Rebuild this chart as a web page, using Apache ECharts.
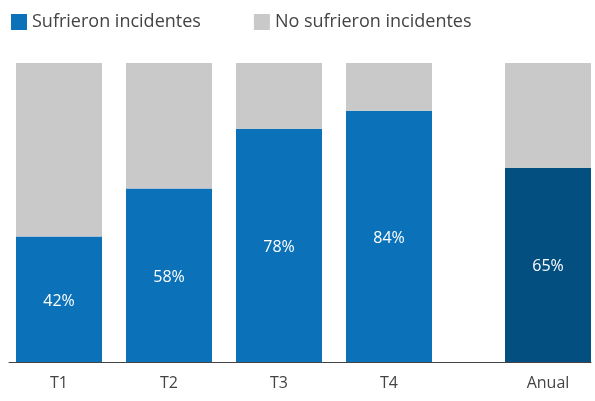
<!DOCTYPE html>
<html>
<head>
<meta charset="utf-8">
<script src="https://cdn.jsdelivr.net/npm/echarts@6/dist/echarts.min.js"></script>
<style>html,body{margin:0;padding:0;background:#fff;}#c{width:595px;height:401px;}</style>
</head>
<body>
<div id="c"></div>
<script>
const quarterCategories = ['T1', 'T2', 'T3', 'T4'];
const annualCategory = ['Anual'];
const quarterIncidents = [42, 58, 78, 84];
const quarterNoIncidents = [58, 42, 22, 16];
const annualIncidents = [65];
const annualNoIncidents = [35];
const seriesNames = ['Sufrieron incidentes', 'No sufrieron incidentes'];

const BLUE = '#0b72ba', DARK = '#034f80', GREY = '#c9c9c9';
const FONT = 'Open Sans';
const chart = echarts.init(document.getElementById('c'), null, {renderer: 'canvas'});
const label = {show: true, position: 'inside', offset: [0, 2], formatter: '{c}%', color: '#fff', fontSize: 16, fontFamily: FONT};
const axisLbl = {color: '#444', fontSize: 16, fontFamily: FONT, margin: 13};
chart.setOption({
  animation: false,
  textStyle: {fontFamily: FONT},
  legend: {
    data: seriesNames, left: 6, top: 8, itemWidth: 16, itemHeight: 16, itemGap: 53,
    icon: 'rect', textStyle: {color: '#444', fontSize: 18, fontFamily: FONT}, selectedMode: false
  },
  grid: [
    {left: 4, width: 440, top: 63, bottom: 39},
    {left: 501, width: 100, top: 63, bottom: 39},
    {left: 9, right: 4, top: 63, bottom: 39}
  ],
  xAxis: [
    {type: 'category', gridIndex: 0, data: quarterCategories, axisLine: {show: false}, axisTick: {show: false}, axisLabel: axisLbl},
    {type: 'category', gridIndex: 1, data: annualCategory, axisLine: {show: false}, axisTick: {show: false}, axisLabel: axisLbl},
    {type: 'category', gridIndex: 2, data: [''], axisLine: {show: true, lineStyle: {color: '#444', width: 1}}, axisTick: {show: false}, axisLabel: {show: false}}
  ],
  yAxis: [
    {type: 'value', gridIndex: 0, min: 0, max: 100, show: false},
    {type: 'value', gridIndex: 1, min: 0, max: 100, show: false},
    {type: 'value', gridIndex: 2, min: 0, max: 100, show: false}
  ],
  series: [
    {name: seriesNames[0], type: 'bar', stack: 'q', xAxisIndex: 0, yAxisIndex: 0, barWidth: 86, data: quarterIncidents, itemStyle: {color: BLUE}, label: label},
    {name: seriesNames[1], type: 'bar', stack: 'q', xAxisIndex: 0, yAxisIndex: 0, barWidth: 86, data: quarterNoIncidents, itemStyle: {color: GREY}},
    {name: seriesNames[0], type: 'bar', stack: 'a', xAxisIndex: 1, yAxisIndex: 1, barWidth: 86, data: annualIncidents, itemStyle: {color: DARK}, label: label},
    {name: seriesNames[1], type: 'bar', stack: 'a', xAxisIndex: 1, yAxisIndex: 1, barWidth: 86, data: annualNoIncidents, itemStyle: {color: GREY}}
  ]
});
</script>
</body>
</html>
